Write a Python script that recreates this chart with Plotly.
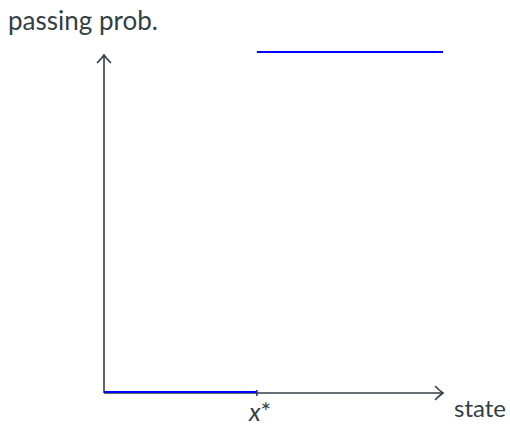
import plotly.graph_objects as go

# data
x_star = 0.451
low_x = [0.0, x_star]
low_y = [0.0, 0.0]
high_x = [x_star, 1.0]
high_y = [1.0, 1.0]
x_label = "state"
y_label = "passing prob."

W, H = 510, 425
L, R, T, B = 104, 67, 51, 32
pw = W - L - R
ph = H - T - B

def px(xp):
    return (xp - L) / pw

def py(yp):
    return (H - B - yp) / ph

axis_col = "#333f45"
blue = "#0000ff"
font = "Lato"

fig = go.Figure()
fig.add_trace(go.Scatter(x=low_x, y=low_y, mode="lines",
                         line=dict(color=blue, width=4), cliponaxis=False,
                         showlegend=False, hoverinfo="skip"))
fig.add_trace(go.Scatter(x=high_x, y=high_y, mode="lines",
                         line=dict(color=blue, width=4), cliponaxis=False,
                         showlegend=False, hoverinfo="skip"))

shapes = []
lw = 1.6
shapes.append(dict(type="line", xref="paper", yref="paper", x0=0, y0=0, x1=1, y1=0,
                   line=dict(color=axis_col, width=lw), layer="below"))
shapes.append(dict(type="path", xref="paper", yref="paper",
                   path=f"M {px(435)} {py(386)} Q {px(440)} {py(391)} {px(443)} {py(393)} Q {px(440)} {py(395)} {px(435)} {py(400)}",
                   line=dict(color=axis_col, width=lw)))
shapes.append(dict(type="line", xref="paper", yref="paper", x0=0, y0=0, x1=0, y1=py(55),
                   line=dict(color=axis_col, width=lw), layer="below"))
shapes.append(dict(type="path", xref="paper", yref="paper",
                   path=f"M {px(97)} {py(63)} Q {px(102)} {py(58)} {px(104)} {py(55)} Q {px(106)} {py(58)} {px(111)} {py(63)}",
                   line=dict(color=axis_col, width=lw)))
shapes.append(dict(type="line", xref="x", yref="paper", x0=x_star, x1=x_star,
                   y0=py(390), y1=py(396), line=dict(color=axis_col, width=lw)))

annotations = [
    dict(text=y_label, xref="paper", yref="paper", x=px(6), y=py(20),
         xanchor="left", yanchor="middle", showarrow=False,
         font=dict(family=font, size=26, color=axis_col)),
    dict(text=x_label, xref="paper", yref="paper", x=px(508), y=py(424),
         xanchor="right", yanchor="bottom", showarrow=False,
         font=dict(family=font, size=24, color=axis_col)),
    dict(text="<i>x</i>*", xref="x", yref="paper", x=x_star + 0.008, y=py(411),
         xanchor="center", yanchor="middle", showarrow=False,
         font=dict(family=font, size=25, color=axis_col)),
]

fig.update_layout(
    width=W, height=H,
    margin=dict(l=L, r=R, t=T, b=B, pad=0),
    paper_bgcolor="white", plot_bgcolor="white",
    xaxis=dict(range=[0, 1], visible=False, fixedrange=True),
    yaxis=dict(range=[0, 1], visible=False, fixedrange=True),
    shapes=shapes, annotations=annotations,
)
fig.write_html("out.html", config={"displayModeBar": False},
               post_script="document.body.style.margin='0';")
